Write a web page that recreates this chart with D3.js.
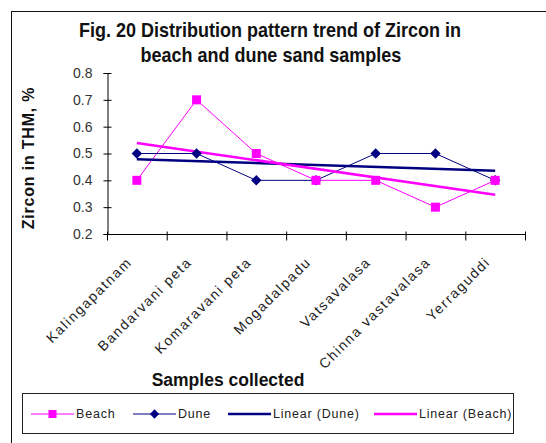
<!DOCTYPE html>
<html>
<head>
<meta charset="utf-8">
<script src="https://cdn.jsdelivr.net/npm/d3@7"></script>
<style>
  html, body { margin: 0; padding: 0; background: #fff; }
  svg { display: block; }
</style>
</head>
<body>
<svg id="chart"></svg>
<script>
// Zircon in THM by sample site, beach vs dune, with linear trendlines.

const sites = ["Kalingapatnam", "Bandarvani peta", "Komaravani peta", "Mogadalpadu",
               "Vatsavalasa", "Chinna vastavalasa", "Yerraguddi"];
const beach = [0.4, 0.7, 0.5, 0.4, 0.4, 0.3, 0.4];
const dune  = [0.5, 0.5, 0.4, 0.4, 0.5, 0.5, 0.4];
const yTicks = [0.2, 0.3, 0.4, 0.5, 0.6, 0.7, 0.8];

(function () {
  const W = 546, H = 443;
  const MAGENTA = "#ff00ff";
  const NAVY = "#000080";
  const INK = "#222";
  const FONT = "Arial, 'Liberation Sans', sans-serif";

  const svg = d3.select("#chart").attr("width", W).attr("height", H)
    .style("font-family", FONT);

  // outer chart frame (runs off the right/bottom edge like the original)
  svg.append("rect")
    .attr("x", 11.5).attr("y", 11.5)
    .attr("width", W + 20).attr("height", H + 20)
    .attr("fill", "#fff").attr("stroke", "#111").attr("stroke-width", 1);

  // title — condensed look via horizontal squeeze
  const title = svg.append("text")
    .attr("transform", "translate(270,0) scale(0.9,1)")
    .attr("text-anchor", "middle")
    .attr("font-weight", "bold")
    .attr("font-size", 20)
    .attr("fill", "#111");
  title.append("tspan").attr("x", 0).attr("y", 37)
    .text("Fig. 20 Distribution pattern trend of Zircon in");
  title.append("tspan").attr("x", 1).attr("y", 62)
    .text("beach and dune sand samples");

  const L = 107, R = 525, T = 73, B = 234;

  const x = d3.scaleBand().domain(sites).range([L, R]);
  const xEdge = d3.scaleLinear().domain([0, sites.length]).range([L, R]);
  const y = d3.scaleLinear().domain([0.2, 0.8]).range([B, T]);
  const cx = d => x(d) + x.bandwidth() / 2;

  // y axis
  const yAxis = svg.append("g")
    .attr("transform", `translate(${L + 0.5},0)`)
    .call(d3.axisLeft(y).tickValues(yTicks).tickSize(4).tickPadding(11)
      .tickFormat(d3.format(".1f")));
  yAxis.select(".domain").attr("stroke", "#000");
  yAxis.selectAll(".tick line").attr("x1", 4).attr("stroke", "#000");
  yAxis.selectAll(".tick text")
    .attr("font-size", 14).attr("fill", "#333").attr("font-family", FONT);

  // x axis ticks at category boundaries
  const xAxis = svg.append("g")
    .attr("transform", `translate(0,${B + 0.5})`)
    .call(d3.axisBottom(xEdge).tickValues(d3.range(sites.length + 1))
      .tickSize(6).tickFormat(""));
  xAxis.select(".domain").attr("stroke", "#000").attr("d", `M${L},0H${R}`);
  xAxis.selectAll(".tick line").attr("y1", -3).attr("stroke", "#000");

  // rotated category labels
  svg.append("g").selectAll("text")
    .data(sites).join("text")
    .attr("transform", d => `translate(${cx(d) - 4},${B + 29}) rotate(-45)`)
    .attr("text-anchor", "end")
    .attr("font-size", 14)
    .attr("letter-spacing", 1.6)
    .attr("fill", INK)
    .text(d => d);

  // axis titles
  svg.append("text")
    .attr("transform", `translate(34,158) rotate(-90)`)
    .attr("text-anchor", "middle")
    .attr("font-weight", "bold").attr("font-size", 16).attr("letter-spacing", 0.8)
    .attr("fill", "#111")
    .text("Zircon in THM, %");

  svg.append("text")
    .attr("x", 228).attr("y", 386)
    .attr("text-anchor", "middle")
    .attr("font-weight", "bold").attr("font-size", 17.5).attr("fill", "#111")
    .text("Samples collected");

  // least-squares trendline like the spreadsheet's "Linear" trendline
  function trend(vals) {
    const n = vals.length, xs = d3.range(1, n + 1);
    const mx = d3.mean(xs), my = d3.mean(vals);
    const slope = d3.sum(xs, (v, i) => (v - mx) * (vals[i] - my)) /
                  d3.sum(xs, v => (v - mx) * (v - mx));
    return [my + slope * (1 - mx), my + slope * (n - mx)];
  }

  const line = d3.line().x((d, i) => cx(sites[i])).y(d => y(d));

  // data lines
  svg.append("path").datum(beach)
    .attr("fill", "none").attr("stroke", MAGENTA).attr("stroke-width", 1)
    .attr("d", line);
  svg.append("path").datum(dune)
    .attr("fill", "none").attr("stroke", NAVY).attr("stroke-width", 1)
    .attr("d", line);

  // trendlines
  const tb = trend(beach), td = trend(dune);
  const first = cx(sites[0]), last = cx(sites[sites.length - 1]);
  svg.append("line")
    .attr("x1", first).attr("x2", last).attr("y1", y(td[0])).attr("y2", y(td[1]))
    .attr("stroke", NAVY).attr("stroke-width", 2.5);
  svg.append("line")
    .attr("x1", first).attr("x2", last).attr("y1", y(tb[0])).attr("y2", y(tb[1]))
    .attr("stroke", MAGENTA).attr("stroke-width", 2.5);

  // markers
  const diamond = d3.symbol().type(d3.symbolDiamond2).size(70);
  svg.append("g").selectAll("path")
    .data(dune).join("path")
    .attr("transform", (d, i) => `translate(${cx(sites[i])},${y(d)})`)
    .attr("d", diamond)
    .attr("fill", NAVY);

  svg.append("g").selectAll("rect")
    .data(beach).join("rect")
    .attr("x", (d, i) => cx(sites[i]) - 4.5)
    .attr("y", d => y(d) - 4.5)
    .attr("width", 9).attr("height", 9)
    .attr("fill", MAGENTA);

  // legend
  const lg = svg.append("g");
  lg.append("rect")
    .attr("x", 22.5).attr("y", 393.5).attr("width", 491).attr("height", 40)
    .attr("fill", "#fff").attr("stroke", "#222").attr("stroke-width", 1);

  const items = [
    { label: "Beach", color: MAGENTA, w: 1, mark: "square", x0: 31 },
    { label: "Dune", color: NAVY, w: 1, mark: "diamond", x0: 133 },
    { label: "Linear (Dune)", color: NAVY, w: 2.5, mark: null, x0: 228 },
    { label: "Linear (Beach)", color: MAGENTA, w: 2.5, mark: null, x0: 374 }
  ];
  const ly = 414;
  items.forEach(it => {
    lg.append("line")
      .attr("x1", it.x0).attr("x2", it.x0 + 43).attr("y1", ly).attr("y2", ly)
      .attr("stroke", it.color).attr("stroke-width", it.w);
    const mx = it.x0 + 21.5;
    if (it.mark === "square") {
      lg.append("rect").attr("x", mx - 4).attr("y", ly - 4)
        .attr("width", 8).attr("height", 8).attr("fill", it.color);
    } else if (it.mark === "diamond") {
      lg.append("path").attr("transform", `translate(${mx},${ly})`)
        .attr("d", d3.symbol().type(d3.symbolDiamond2).size(55)).attr("fill", it.color);
    }
    lg.append("text")
      .attr("x", it.x0 + 45).attr("y", ly).attr("dy", "0.35em")
      .attr("font-size", 12.5).attr("letter-spacing", 0.8).attr("fill", INK)
      .text(it.label);
  });
})();
</script>
</body>
</html>
